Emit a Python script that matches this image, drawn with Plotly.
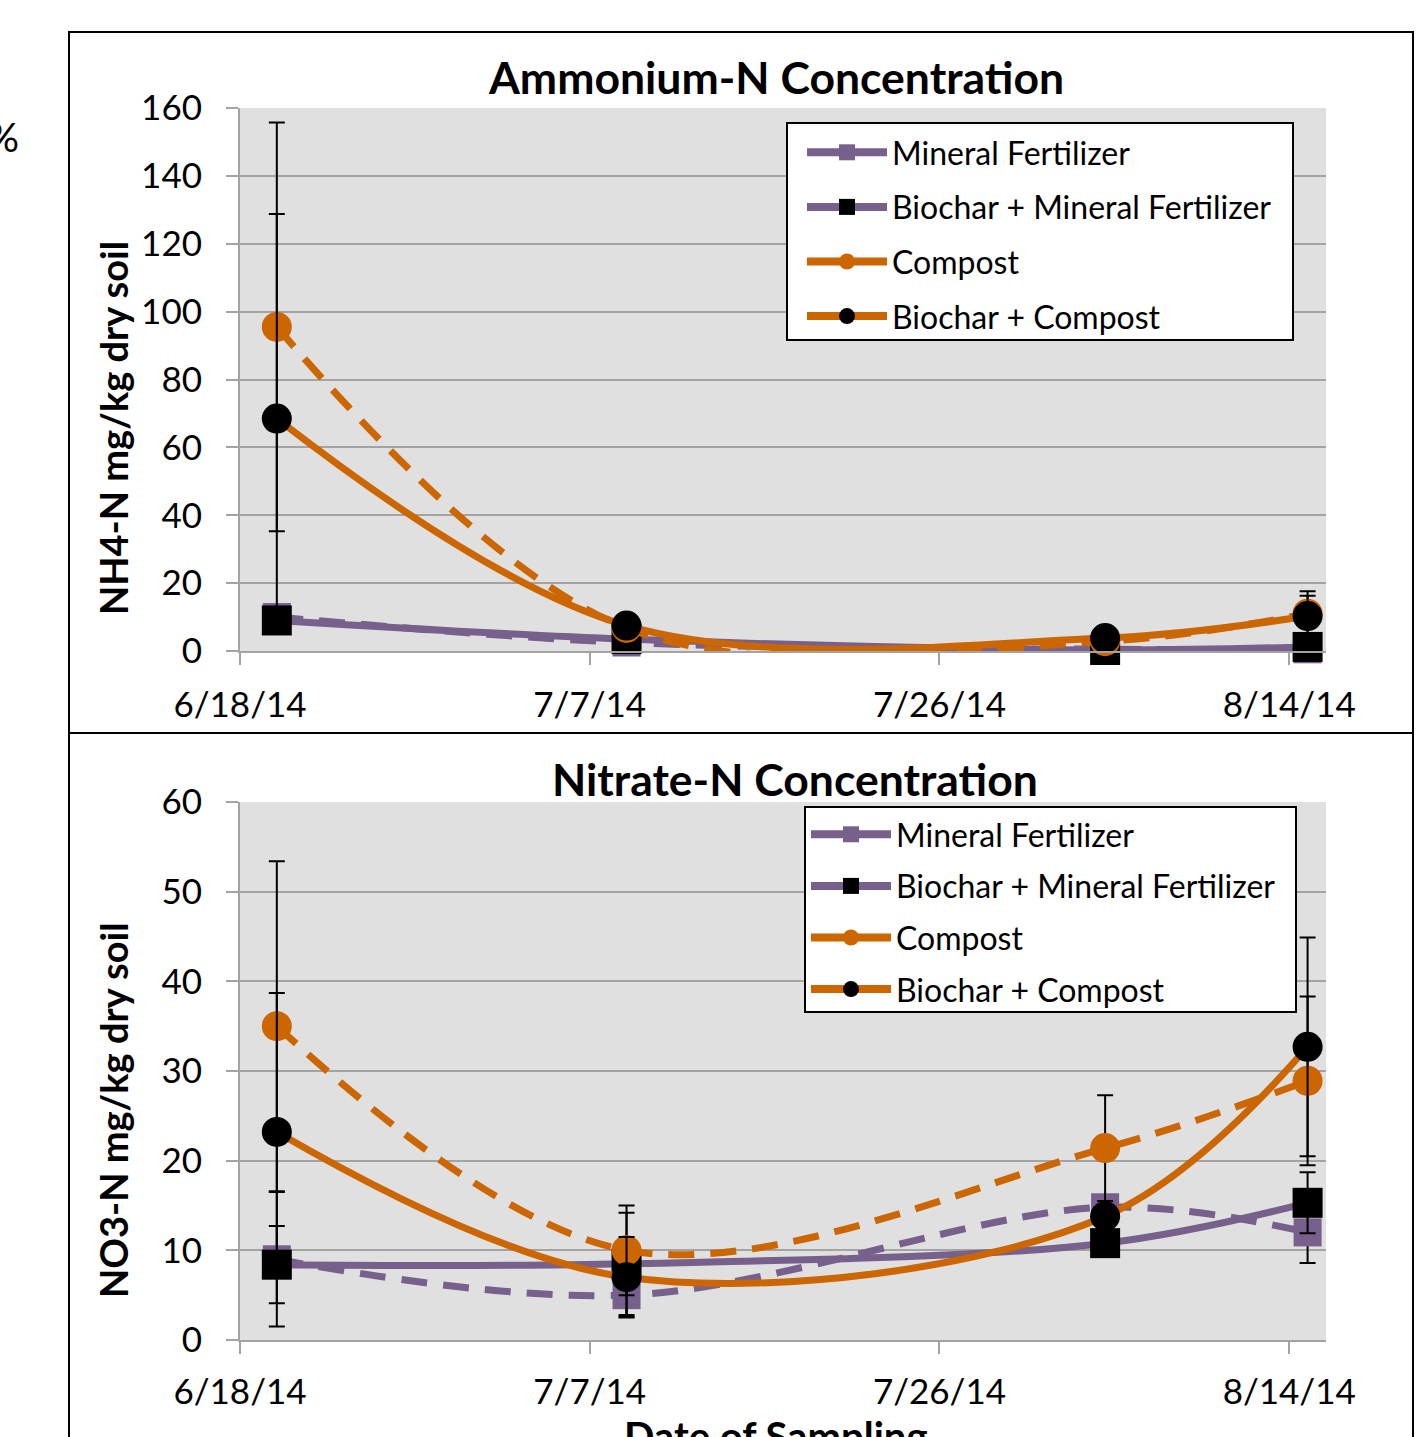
import plotly.graph_objects as go

# ---------------- data ----------------
sample_dates = ["2014-06-20", "2014-07-09", "2014-08-04", "2014-08-15"]
series_names = ["Mineral Fertilizer", "Biochar + Mineral Fertilizer", "Compost", "Biochar + Compost"]

# Ammonium-N (NH4-N mg/kg dry soil)
nh4_mineral = [10.0, 2.5, 0.5, 0.5]
nh4_biochar_mineral = [9.0, 3.5, 0.3, 1.2]
nh4_compost = [95.5, 6.8, 2.9, 11.0]
nh4_biochar_compost = [68.5, 7.5, 3.8, 10.3]

nh4_mineral_err = [3.0, 1.5, 0.3, 0.4]
nh4_biochar_mineral_err = [3.5, 2.0, 0.3, 0.5]
nh4_compost_err = [60.2, 3.0, 1.5, 6.6]
nh4_biochar_compost_err = [60.3, 3.0, 1.5, 6.0]

# Nitrate-N (NO3-N mg/kg dry soil)
no3_mineral = [9.0, 5.0, 14.8, 12.0]
no3_biochar_mineral = [8.4, 8.5, 10.8, 15.3]
no3_compost = [35.0, 10.0, 21.4, 28.9]
no3_biochar_compost = [23.2, 7.0, 13.8, 32.7]

no3_mineral_err = [7.5, 2.4, 1.2, 3.4]
no3_biochar_mineral_err = [4.3, 5.7, 1.2, 3.4]
no3_compost_err = [18.4, 5.0, 5.9, 9.4]
no3_biochar_compost_err = [15.5, 4.5, 1.2, 12.2]

tick_dates = ["2014-06-18", "2014-07-07", "2014-07-26", "2014-08-14"]
tick_labels = ["6/18/14", "7/7/14", "7/26/14", "8/14/14"]
x_range = ["2014-06-18", "2014-08-16"]

# ---------------- styles ----------------
W, H = 1417, 1437
PURPLE = "#77608C"
ORANGE = "#CC6600"
GRID = "#A3A3A3"
BG = "#E0E0E0"
FONT = "Lato"

styles = [
    dict(color=PURPLE, dash="26px,16px", symbol="square", mcolor=PURPLE, msize=28),
    dict(color=PURPLE, dash="solid", symbol="square", mcolor="black", msize=30),
    dict(color=ORANGE, dash="26px,16px", symbol="circle", mcolor=ORANGE, msize=30),
    dict(color=ORANGE, dash="solid", symbol="circle", mcolor="black", msize=30),
]


def fx(px):
    return px / W


def fy(py):
    return 1 - py / H


fig = go.Figure()

panels = [
    ("x", "y", [nh4_mineral, nh4_biochar_mineral, nh4_compost, nh4_biochar_compost],
     [nh4_mineral_err, nh4_biochar_mineral_err, nh4_compost_err, nh4_biochar_compost_err], "legend"),
    ("x2", "y2", [no3_mineral, no3_biochar_mineral, no3_compost, no3_biochar_compost],
     [no3_mineral_err, no3_biochar_mineral_err, no3_compost_err, no3_biochar_compost_err], "legend2"),
]

for xa, ya, vals, errs, leg in panels:
    for name, v, e, st in zip(series_names, vals, errs, styles):
        fig.add_trace(go.Scatter(
            x=sample_dates, y=v, xaxis=xa, yaxis=ya, name=name, showlegend=False,
            mode="lines+markers", cliponaxis=False,
            line=dict(color=st["color"], width=7, dash=st["dash"], shape="spline", smoothing=1),
            marker=dict(symbol=st["symbol"], size=st["msize"], color=st["mcolor"], line=dict(width=0)),
            error_y=dict(type="data", array=e, symmetric=True, color="black", thickness=2, width=8),
        ))
    # legend-only entries (solid lines as in the original legend)
    for i, (name, st) in enumerate(zip(series_names, styles)):
        fig.add_trace(go.Scatter(
            x=[None], y=[None], xaxis=xa, yaxis=ya, name=name, legend=leg,
            legendgroup=leg + str(i), mode="lines+markers",
            line=dict(color=st["color"], width=8),
            marker=dict(symbol=st["symbol"], size=20, color=st["mcolor"]),
        ))

axis_common = dict(
    showline=True, linecolor=GRID, linewidth=2, ticks="outside", ticklen=12,
    tickcolor=GRID, tickwidth=2, tickfont=dict(family=FONT, size=35, color="black"),
)

legend_box = dict(type="rect", xref="paper", yref="paper", fillcolor="white",
                  line=dict(color="black", width=2), layer="above")

fig.update_layout(
    width=W, height=H, autosize=False,
    margin=dict(l=0, r=0, t=0, b=0, pad=0, autoexpand=False),
    paper_bgcolor="white", plot_bgcolor=BG,
    font=dict(family=FONT, color="black"),
    xaxis=dict(domain=[fx(240), fx(1326)], anchor="y", type="date", range=x_range,
               tickvals=tick_dates, ticktext=tick_labels, showgrid=False,
               ticklabelstandoff=10, **axis_common),
    yaxis=dict(domain=[fy(651), fy(108)], anchor="x", range=[0, 160], dtick=20,
               showgrid=True, gridcolor=GRID, gridwidth=2, zeroline=False,
               ticklabelstandoff=17, **axis_common),
    xaxis2=dict(domain=[fx(240), fx(1326)], anchor="y2", type="date", range=x_range,
                tickvals=tick_dates, ticktext=tick_labels, showgrid=False,
                ticklabelstandoff=8, **axis_common),
    yaxis2=dict(domain=[fy(1340), fy(802)], anchor="x2", range=[0, 60], dtick=10,
                showgrid=True, gridcolor=GRID, gridwidth=2, zeroline=False,
                ticklabelstandoff=17, **axis_common),
    legend=dict(x=fx(802), y=fy(125), xanchor="left", yanchor="top",
                bgcolor="rgba(0,0,0,0)", borderwidth=0,
                font=dict(family=FONT, size=32, color="black"),
                tracegroupgap=10, itemwidth=80),
    legend2=dict(x=fx(806), y=fy(807), xanchor="left", yanchor="top",
                 bgcolor="rgba(0,0,0,0)", borderwidth=0,
                 font=dict(family=FONT, size=32, color="black"),
                 tracegroupgap=7, itemwidth=80),
    shapes=[
        dict(type="rect", xref="paper", yref="paper", x0=fx(69), x1=fx(1413), y0=fy(733), y1=fy(32),
             line=dict(color="black", width=2), layer="below"),
        dict(type="rect", xref="paper", yref="paper", x0=fx(69), x1=fx(1413), y0=fy(1460), y1=fy(733),
             line=dict(color="black", width=2), layer="below"),
        dict(legend_box, x0=fx(787), x1=fx(1293), y0=fy(340), y1=fy(123)),
        dict(legend_box, x0=fx(805), x1=fx(1296), y0=fy(1012), y1=fy(807)),
    ],
    annotations=[
        dict(text="<b>Ammonium-N Concentration</b>", x=fx(776), y=fy(77), xref="paper", yref="paper",
             showarrow=False, xanchor="center", yanchor="middle", font=dict(family=FONT, size=44.5)),
        dict(text="<b>Nitrate-N Concentration</b>", x=fx(795), y=fy(778), xref="paper", yref="paper",
             showarrow=False, xanchor="center", yanchor="middle", font=dict(family=FONT, size=44.5)),
        dict(text="<b>NH4-N mg/kg dry soil</b>", x=fx(113), y=fy(428), xref="paper", yref="paper",
             showarrow=False, textangle=-90, xanchor="center", yanchor="middle", font=dict(family=FONT, size=38)),
        dict(text="<b>NO3-N mg/kg dry soil</b>", x=fx(113), y=fy(1110), xref="paper", yref="paper",
             showarrow=False, textangle=-90, xanchor="center", yanchor="middle", font=dict(family=FONT, size=38)),
        dict(text="<b>Date of Sampling</b>", x=fx(776), y=fy(1410), xref="paper", yref="paper",
             showarrow=False, xanchor="center", yanchor="top", font=dict(family=FONT, size=40)),
        dict(text="%", x=fx(21), y=fy(137), xref="paper", yref="paper",
             showarrow=False, xanchor="right", yanchor="middle", font=dict(family=FONT, size=40)),
    ],
)

fig.write_html("out.html", config={"displayModeBar": False},
               post_script="document.body.style.margin='0';")
